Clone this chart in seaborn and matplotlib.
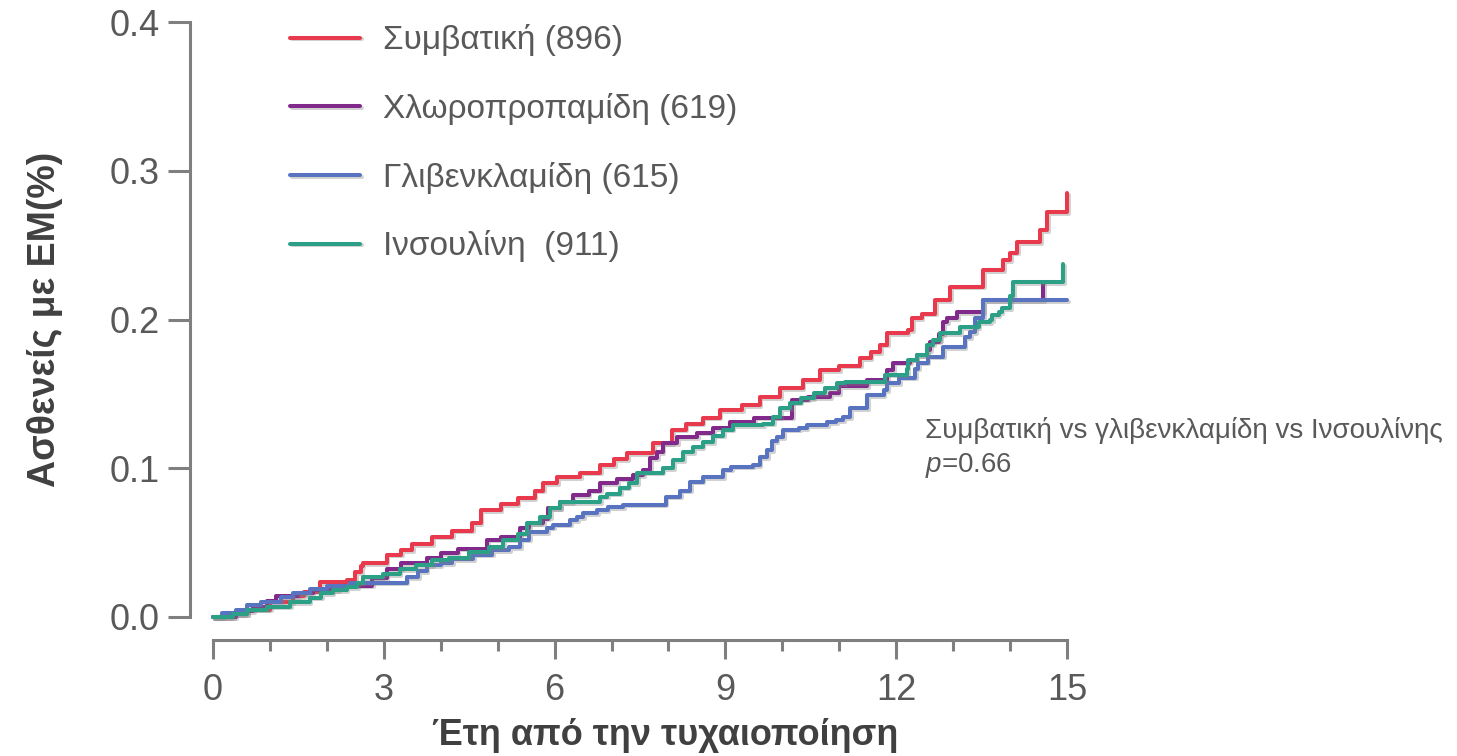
import numpy as np
import pandas as pd
import seaborn as sns
import matplotlib.pyplot as plt
import matplotlib.patheffects as pe

# cumulative incidence (years, fraction)
conv_t = [0, 0.3, 0.6, 1.0, 1.4, 1.6, 1.88, 2.35, 2.5, 2.6, 2.63, 3.05, 3.3, 3.5, 3.85,
          4.2, 4.55, 4.7, 5.05, 5.35, 5.65, 5.8, 6.05, 6.45, 6.8, 7.05, 7.27, 7.73, 8.06,
          8.3, 8.6, 8.9, 9.3, 9.6, 9.96, 10.36, 10.66, 11.0, 11.37, 11.55, 11.72, 11.84,
          12.2, 12.28, 12.45, 12.68, 12.95, 13.53, 13.88, 14.0, 14.12, 14.53, 14.65, 15.0]
conv_v = [0, 0.002, 0.005, 0.010, 0.014, 0.017, 0.0235, 0.025, 0.030, 0.034, 0.036, 0.042,
          0.045, 0.049, 0.054, 0.058, 0.063, 0.072, 0.076, 0.080, 0.085, 0.090, 0.094,
          0.097, 0.102, 0.106, 0.110, 0.117, 0.126, 0.130, 0.134, 0.139, 0.1425, 0.148,
          0.154, 0.159, 0.166, 0.169, 0.174, 0.178, 0.183, 0.191, 0.193, 0.201, 0.204,
          0.213, 0.222, 0.233, 0.240, 0.245, 0.252, 0.260, 0.272, 0.285]

chlor_t = [0, 0.4, 0.55, 0.7, 0.95, 1.1, 1.5, 1.75, 2.2, 2.8, 3.05, 3.3, 3.75, 4.0, 4.3,
           4.81, 5.05, 5.4, 5.55, 5.8, 5.88, 6.1, 6.32, 6.6, 6.8, 7.1, 7.38, 7.55, 7.68,
           7.8, 7.9, 8.15, 8.5, 8.78, 9.08, 9.5, 10.17, 10.45, 10.84, 11.0, 11.49, 11.84,
           11.95, 12.24, 12.36, 12.54, 12.6, 12.75, 12.82, 12.9, 13.07, 13.53, 14.58]
chlor_v = [0, 0.002, 0.004, 0.007, 0.011, 0.014, 0.016, 0.018, 0.021, 0.026, 0.032, 0.036,
           0.040, 0.043, 0.046, 0.052, 0.054, 0.060, 0.063, 0.066, 0.073, 0.077, 0.082,
           0.085, 0.090, 0.093, 0.0955, 0.099, 0.107, 0.111, 0.117, 0.121, 0.124, 0.127,
           0.131, 0.134, 0.146, 0.148, 0.1505, 0.155, 0.159, 0.166, 0.171, 0.173, 0.176,
           0.1795, 0.185, 0.190, 0.198, 0.201, 0.205, 0.213, 0.224]

glib_t = [0, 0.16, 0.4, 0.6, 0.85, 1.2, 1.4, 1.7, 2.0, 2.4, 3.4, 3.6, 3.75, 4.0, 4.2, 4.57,
          4.9, 5.2, 5.4, 5.55, 5.87, 5.98, 6.27, 6.4, 6.5, 6.75, 6.93, 7.2, 7.95, 8.2,
          8.38, 8.6, 8.96, 9.1, 9.49, 9.6, 9.73, 9.82, 9.9, 10.01, 10.3, 10.43, 10.79,
          10.95, 11.07, 11.19, 11.49, 11.78, 11.84, 12.05, 12.33, 12.38, 12.55, 12.82,
          13.2, 13.3, 13.39, 13.53, 15.0]
glib_v = [0, 0.003, 0.005, 0.008, 0.010, 0.0135, 0.016, 0.019, 0.021, 0.023, 0.027, 0.031,
          0.035, 0.036, 0.039, 0.042, 0.045, 0.047, 0.052, 0.057, 0.060, 0.062, 0.065,
          0.067, 0.070, 0.072, 0.074, 0.0755, 0.081, 0.085, 0.091, 0.094, 0.099, 0.101,
          0.102, 0.1075, 0.112, 0.118, 0.121, 0.126, 0.127, 0.129, 0.131, 0.1325, 0.1345,
          0.1405, 0.149, 0.1525, 0.157, 0.161, 0.167, 0.171, 0.175, 0.1815, 0.188,
          0.1915, 0.201, 0.213, 0.213]

ins_t = [0, 0.35, 0.6, 0.95, 1.35, 1.7, 1.9, 2.1, 2.35, 2.53, 2.63, 2.98, 3.28, 3.56,
         3.85, 4.15, 4.5, 4.85, 5.1, 5.35, 5.52, 5.75, 5.92, 6.1, 6.8, 6.92, 7.15, 7.3,
         7.45, 7.9, 8.08, 8.26, 8.43, 8.6, 8.78, 8.96, 9.13, 9.66, 9.84, 9.96, 10.14,
         10.32, 10.55, 10.75, 10.96, 11.1, 11.8, 12.19, 12.2, 12.36, 12.54, 12.65, 12.77,
         13.12, 13.45, 13.65, 13.68, 13.8, 13.85, 14.0, 14.05, 14.93]
ins_v = [0, 0.002, 0.005, 0.007, 0.010, 0.013, 0.016, 0.018, 0.020, 0.023, 0.027, 0.029,
         0.032, 0.035, 0.038, 0.040, 0.044, 0.047, 0.052, 0.056, 0.063, 0.067, 0.073,
         0.077, 0.081, 0.083, 0.087, 0.090, 0.097, 0.100, 0.1055, 0.111, 0.114, 0.1175,
         0.122, 0.126, 0.129, 0.130, 0.1345, 0.1405, 0.144, 0.147, 0.1505, 0.154, 0.157,
         0.158, 0.163, 0.167, 0.173, 0.176, 0.183, 0.186, 0.191, 0.195, 0.198, 0.1995,
         0.203, 0.205, 0.2075, 0.216, 0.225, 0.237]

groups = ["Συμβατική (896)", "Χλωροπροπαμίδη (619)", "Γλιβενκλαμίδη (615)", "Ινσουλίνη  (911)"]
colors = ["#E8394D", "#812A8B", "#5873C0", "#2BA087"]

df = pd.concat([
    pd.DataFrame({"t": t, "v": v, "group": g})
    for t, v, g in zip([conv_t, chlor_t, glib_t, ins_t],
                       [conv_v, chlor_v, glib_v, ins_v], groups)
], ignore_index=True)

sns.set_style("ticks")
plt.rcParams['font.family'] = ['Liberation Sans', 'DejaVu Sans']
plt.rcParams['mathtext.fontset'] = 'custom'
plt.rcParams['mathtext.rm'] = 'Liberation Sans'
plt.rcParams['mathtext.it'] = 'Liberation Sans:italic'

grey = "#595959"
spine_grey = "#7F7F7F"

fig = plt.figure(figsize=(14.57, 7.56), dpi=100)
ax = fig.add_axes([213 / 1457, 139 / 756, (1067 - 213) / 1457, (617 - 22) / 756])

sns.lineplot(data=df, x="t", y="v", hue="group", palette=colors, hue_order=groups,
             estimator=None, sort=False, drawstyle="steps-post", linewidth=2.9, ax=ax)

for line in ax.lines:
    line.set_clip_on(False)
    line.set_path_effects([pe.SimpleLineShadow(offset=(1.2, -1.2), shadow_color="0.5", alpha=0.35),
                           pe.Normal()])

ax.set_xlim(0, 15)
ax.set_ylim(0, 0.4)
ax.set_xticks([0, 3, 6, 9, 12, 15])
ax.set_xticks(np.arange(0, 16, 1), minor=True)
ax.set_yticks([0, 0.1, 0.2, 0.3, 0.4])
ax.set_yticklabels(["0.0", "0.1", "0.2", "0.3", "0.4"])

sns.despine(ax=ax, offset=16.5)
ax.spines["left"].set_bounds(0, 0.4)
ax.spines["bottom"].set_bounds(0, 15)
for s in ["left", "bottom"]:
    ax.spines[s].set_color(spine_grey)
    ax.spines[s].set_linewidth(2.2)

ax.tick_params(axis="y", which="major", length=16, width=2.2, color=spine_grey,
               labelsize=26, labelcolor=grey, pad=6)
ax.tick_params(axis="x", which="major", length=14, width=2.2, color=spine_grey,
               labelsize=26, labelcolor=grey, pad=10)
ax.tick_params(axis="x", which="minor", length=8, width=2.2, color=spine_grey)

ax.set_xlabel("Έτη από την τυχαιοποίηση", fontsize=26, fontweight="bold", color="#404040")
ax.xaxis.set_label_coords(0.529, -0.17)
ax.set_ylabel("Ασθενείς με ΕΜ(%)", fontsize=27, fontweight="bold", color="#404040", labelpad=33)

handles, labels = ax.get_legend_handles_labels()
leg = ax.legend(handles, labels, loc="upper left", bbox_to_anchor=(290 / 1457, 0.968),
                bbox_transform=fig.transFigure, frameon=False, fontsize=24,
                handlelength=2.1, handletextpad=0.69, labelspacing=1.1,
                borderpad=0, borderaxespad=0)
for txt in leg.get_texts():
    txt.set_color(grey)

fig.text(925 / 1457, 1 - 430 / 756, "Συμβατική vs γλιβενκλαμίδη vs Ινσουλίνης",
         fontsize=20, color=grey, va="center", ha="left")
fig.text(925 / 1457, 1 - 465 / 756, r"$p$=0.66",
         fontsize=20, color=grey, va="center", ha="left")

fig.savefig("out.png", dpi=100)
